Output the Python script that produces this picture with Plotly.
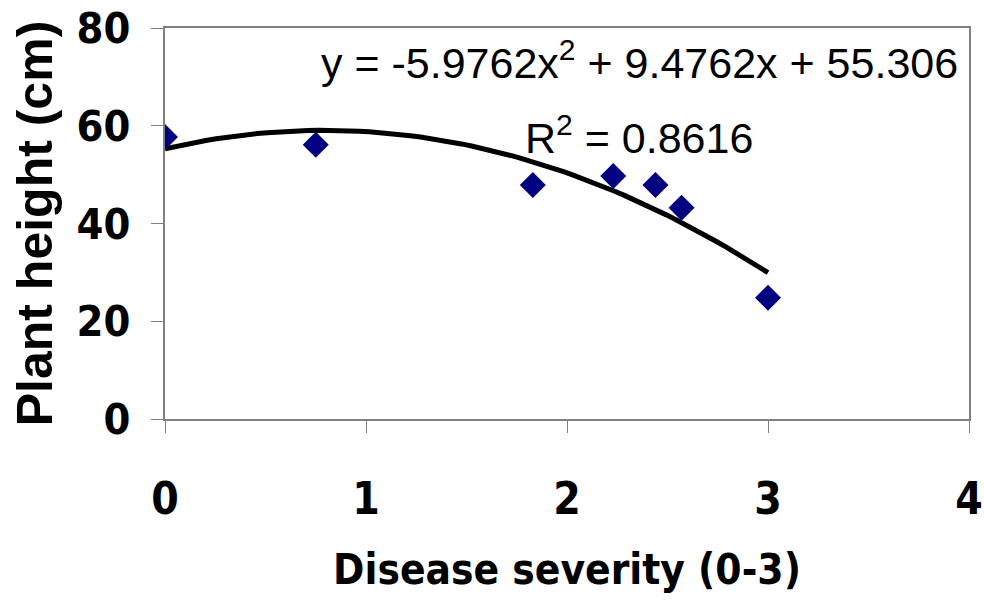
import plotly.graph_objects as go
import numpy as np

# Observed data
severity = [0.0, 0.75, 1.83, 2.23, 2.44, 2.57, 3.0]
height = [57.7, 56.1, 47.9, 49.7, 47.9, 43.2, 24.8]

# Trendline coefficients shown on chart (a*x^2 + b*x + c)
coef_a, coef_b, coef_c = -5.9762, 9.4762, 55.306
r_squared = 0.8616

x_ticks = [0, 1, 2, 3, 4]
y_ticks = [0, 20, 40, 60, 80]

trend_x = np.linspace(min(severity), max(severity), 60)
trend_y = coef_a * trend_x**2 + coef_b * trend_x + coef_c

NARROW = "DejaVu Sans Condensed, Liberation Sans Narrow, Liberation Sans, Arial, sans-serif"
ARIAL = "Liberation Sans, Arial, sans-serif"

fig = go.Figure()
fig.add_trace(go.Scatter(x=trend_x, y=trend_y, mode="lines",
                         line=dict(color="black", width=5), showlegend=False,
                         hoverinfo="skip"))
fig.add_trace(go.Scatter(x=severity, y=height, mode="markers",
                         marker=dict(symbol="diamond", size=20, color="#000080"),
                         showlegend=False))

fig.add_annotation(x=2.36, y=73.5, xref="x", yref="y", showarrow=False,
                   text=f"y = {coef_a}x<sup>2</sup> + {coef_b}x + {coef_c}",
                   font=dict(family=ARIAL, size=43, color="black"), xanchor="center", yanchor="middle")
fig.add_annotation(x=2.36, y=58.1, xref="x", yref="y", showarrow=False,
                   text=f"R<sup>2</sup> = {r_squared}",
                   font=dict(family=ARIAL, size=43, color="black"), xanchor="center", yanchor="middle")

fig.update_layout(
    width=984, height=600,
    margin=dict(l=165, r=15, t=28, b=181, autoexpand=False),
    plot_bgcolor="white", paper_bgcolor="white",
)
fig.update_xaxes(range=[0, 4], tickvals=x_ticks, showgrid=False, zeroline=False,
                 automargin=False,
                 showline=True, linecolor="#808080", linewidth=2, mirror=True,
                 ticks="outside", ticklen=12, tickcolor="#808080", tickwidth=1,
                 ticklabelstandoff=28,
                 tickfont=dict(family=NARROW, size=44, color="black", weight="bold"),
                 title=dict(text="Disease severity (0-3)", standoff=32,
                            font=dict(family=NARROW, size=42, color="black", weight="bold")))
fig.update_yaxes(range=[0, 80], tickvals=y_ticks, showgrid=False, zeroline=False,
                 automargin=False,
                 showline=True, linecolor="#808080", linewidth=2, mirror=True,
                 ticks="outside", ticklen=12, tickcolor="#808080", tickwidth=1,
                 ticklabelstandoff=12,
                 tickfont=dict(family=NARROW, size=43, color="black", weight="bold"),
                 title=dict(text="Plant height (cm)", standoff=8,
                            font=dict(family=ARIAL, size=50, color="black", weight="bold")))

fig.write_html("out.html")
